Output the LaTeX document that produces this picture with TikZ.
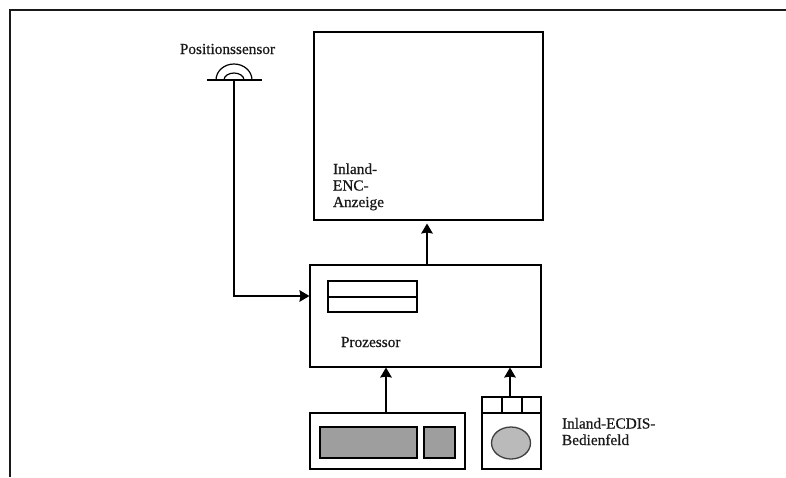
\documentclass[tikz,border=0pt]{standalone}
\usepackage{fontspec}
\setmainfont[FakeBold=0.6]{Liberation Serif}
\usetikzlibrary{arrows.meta,shapes.geometric}
\tikzset{
  box/.style={draw=black,line width=1.6pt,rectangle,inner sep=0pt,outer sep=0pt,fill=white},
  greybox/.style={box,fill=black!38},
  lbl/.style={inner sep=0pt,outer sep=0pt,anchor=base west,align=left,text=black!90,font=\fontsize{15.3}{16.5}\selectfont},
  conn/.style={line width=1.6pt,-{Stealth[length=10pt,width=11.5pt,inset=1pt]},shorten >=0.5pt},
}
\begin{document}
\begin{tikzpicture}[x=1pt,y=-1pt]
\useasboundingbox (0,0) rectangle (786,477);
% outer frame
\coordinate (fbl) at (10,477);
\coordinate (ftl) at (10,10);
\coordinate (ftr) at (786,10);
\draw[line width=1.7pt,black!90] (fbl) -- (ftl) -- (ftr);
% boxes
\node[box,minimum width=229pt,minimum height=188pt] (disp) at (428.5,126) {};
\node[box,minimum width=231pt,minimum height=102pt] (proc) at (425.5,316) {};
\node[box,minimum width=89pt,minimum height=31pt] (slot) at (372.5,296.5) {};
\coordinate (slotl) at (328,297);
\coordinate (slotr) at (417,297);
\draw[line width=1.8pt] (slotl) -- (slotr);
\node[box,minimum width=155pt,minimum height=56pt] (kbd) at (387.5,441) {};
\node[greybox,minimum width=97pt,minimum height=31pt] (kl) at (368.5,442.5) {};
\node[greybox,minimum width=31pt,minimum height=31pt] (kr) at (439.5,442.5) {};
\node[box,minimum width=59pt,minimum height=72pt] (mouse) at (511.5,433) {};
\coordinate (mlw) at (482,413);
\coordinate (mle) at (541,413);
\draw[line width=1.6pt] (mlw) -- (mle);
\coordinate (d1t) at (502,397);
\coordinate (d1b) at (502,413);
\coordinate (d2t) at (522,397);
\coordinate (d2b) at (522,413);
\draw[line width=1.6pt] (d1t) -- (d1b) (d2t) -- (d2b);
\node[draw=black!75,line width=1.3pt,fill=black!27,ellipse,inner sep=0pt,minimum width=39pt,minimum height=32pt] (ball) at (511,443) {};
% sensor
\coordinate (sl) at (207,80);
\coordinate (sr) at (262,80);
\coordinate (sens) at (234,80);
\draw[line width=1.5pt] (sl) -- (sr);
\draw[line width=1.2pt] (216,80) arc[start angle=180,end angle=360,x radius=18,y radius=16];
\draw[line width=1.2pt] (224,80) arc[start angle=180,end angle=360,x radius=10,y radius=7];
% connectors
\coordinate (pin) at (234,296);
\draw[conn] (sens) -- (pin) -- (proc.west |- pin);
\coordinate (pout) at (427,265);
\draw[conn,shorten >=3.5pt] (pout) -- (pout |- disp.south);
\coordinate (kout) at (386,413);
\draw[conn] (kout) -- (kout |- proc.south);
\coordinate (mout) at (510,397);
\draw[conn] (mout) -- (mout |- proc.south);
% labels
\node[lbl,anchor=base] (tsens) at (227.5,54) {Positionssensor};
\node[lbl] (tdisp) at (333,207) {Inland-\\ENC-\\Anzeige};
\node[lbl] (tproc) at (341,347) {Prozessor};
\node[lbl] (tpanel) at (562,445) {Inland-ECDIS-\\Bedienfeld};
\end{tikzpicture}
\end{document}
